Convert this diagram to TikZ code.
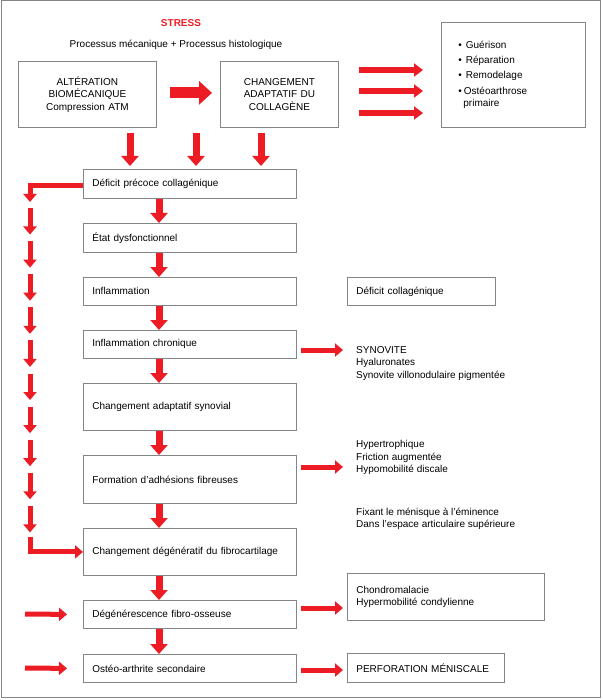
\documentclass[tikz,border=0pt]{standalone}
\usepackage{fontspec}
\setmainfont{Liberation Sans}
\usetikzlibrary{arrows.meta,calc}
\definecolor{rd}{HTML}{ED1C24}
\definecolor{gr}{HTML}{858585}
\begin{document}
\begin{tikzpicture}[x=1pt,y=-1pt,
  every node/.style={font=\fontsize{10}{12.5}\selectfont},
  box/.style={draw=gr, line width=0.8pt, anchor=north west, inner xsep=9pt, inner ysep=0pt, align=left},
  mainbox/.style={box, text width=195pt, minimum height=#1},
  txt/.style={anchor=west, align=left, inner sep=0pt},
  fatarr/.style={draw=rd, line width=11pt, -{Triangle[length=13pt,width=23pt]}},
  bigarr/.style={draw=rd, line width=7pt, -{Triangle[length=10pt,width=17pt]}},
  medarr/.style={draw=rd, line width=6pt, -{Triangle[length=9pt,width=13pt]}},
  smallarr/.style={draw=rd, line width=5pt, line join=miter, -{Triangle[length=8pt,width=13pt]}}
]
\useasboundingbox (0,0) rectangle (602,700);
\draw[gr, line width=1pt] (1,1) rectangle (600,697);

\node[font=\fontsize{10}{12.5}\selectfont\bfseries, text=rd] (stress) at (181,23) {STRESS};
\node (proc) at (176,45) {Processus mécanique + Processus histologique};

\node[box, align=center, text width=120pt, minimum height=66pt] (alt) at (18,61) {ALTÉRATION\\BIOMÉCANIQUE\\Compression ATM};
\node[box, align=center, text width=100pt, minimum height=66pt] (chg) at (220,61) {CHANGEMENT\\ADAPTATIF DU\\COLLAGÈNE};
\node[box, inner xsep=17pt, text width=110pt, minimum height=105pt] (res) at (441,22)
  {•\hspace{4pt}Guérison\\[2.5pt]•\hspace{4pt}Réparation\\[2.5pt]•\hspace{4pt}Remodelage\\[3pt]•\hspace{2pt}Ostéoarthrose\\\hspace{5pt}primaire};

\node[mainbox=29pt] (def) at (83,169) {Déficit précoce collagénique};
\node[mainbox=29pt] (etat) at (83,223) {État dysfonctionnel};
\node[mainbox=28pt] (infl) at (83,277) {Inflammation};
\node[mainbox=28pt] (chron) at (83,330) {Inflammation chronique};
\node[mainbox=47pt] (synov) at (83,383) {Changement adaptatif synovial};
\node[mainbox=48pt] (adh) at (83,455) {Formation d’adhésions fibreuses};
\node[mainbox=47pt] (degen) at (83,528) {Changement dégénératif du fibrocartilage};
\node[mainbox=28pt] (fibro) at (83,600) {Dégénérescence fibro-osseuse};
\node[mainbox=28pt] (osteo) at (83,654) {Ostéo-arthrite secondaire};

\node[box, text width=130pt, minimum height=28pt] (defc) at (347,277) {Déficit collagénique};
\node[box, text width=179pt, minimum height=47pt] (chond) at (347,573) {Chondromalacie\\Hypermobilité condylienne};
\node[box, text width=139pt, minimum height=29pt] (perf) at (347,653) {PERFORATION MÉNISCALE};

\node[txt] (syn) at (356,363.5) {SYNOVITE\\Hyaluronates\\Synovite villonodulaire pigmentée};
\node[txt] (hyp) at (356,457.5) {Hypertrophique\\Friction augmentée\\Hypomobilité discale};
\node[txt] (fix) at (356,519) {Fixant le ménisque à l’éminence\\Dans l’espace articulaire supérieure};

% top arrows
\draw[fatarr] ([xshift=13pt,yshift=1.5pt]alt.east) -- ([xshift=-8pt,yshift=1.5pt]chg.west);
\foreach \y in {70,91,113}
  \draw[medarr] ([xshift=20pt]chg.east |- 0,\y) -- ([xshift=-18pt]res.west |- 0,\y);
\foreach \x in {130,196,261}
  \draw[bigarr] ($(\x,0 |- alt.south)+(0,5)$) -- ($(\x,0 |- def.north)+(0,-3)$);

% central chain
\foreach \a/\b in {def/etat, etat/infl, infl/chron, chron/synov, synov/adh, adh/degen, degen/fibro, fibro/osteo}
  \draw[bigarr] (159,0 |- \a.south) -- (159,0 |- \b.north);

% left chain
\coordinate (l0) at (30,202);
\draw[smallarr] ([yshift=-2pt]def.west) -| (l0);
\foreach \i [evaluate=\i as \s using 208+33.1*\i, evaluate=\i as \e using 234.5+33.1*\i] in {0,...,9} {
  \coordinate (ca\i) at (30,\s);
  \coordinate (cb\i) at (30,\e);
  \draw[smallarr] (ca\i) -- (cb\i);
}
\coordinate (l1) at (30,537);
\draw[smallarr] (l1) |- (degen.west);

% left horizontal arrows
\coordinate (f0) at (25,614);
\coordinate (g0) at (25,668);
\draw[smallarr] (f0) -- ([xshift=-16pt]fibro.west);
\draw[smallarr] (g0) -- ([xshift=-16pt]osteo.west);

% right arrows
\draw[smallarr] ([xshift=4pt]chron.east |- 0,350) -- ([xshift=-13pt]syn.west |- 0,350);
\draw[smallarr] ([xshift=4pt]adh.east |- 0,467) -- ([xshift=-13pt]hyp.west |- 0,467);
\draw[smallarr] ([xshift=4pt]fibro.east |- 0,608) -- ([xshift=-4pt]chond.west |- 0,608);
\draw[smallarr] ([xshift=4pt]osteo.east |- 0,670) -- ([xshift=-4pt]perf.west |- 0,670);
\end{tikzpicture}
\end{document}
